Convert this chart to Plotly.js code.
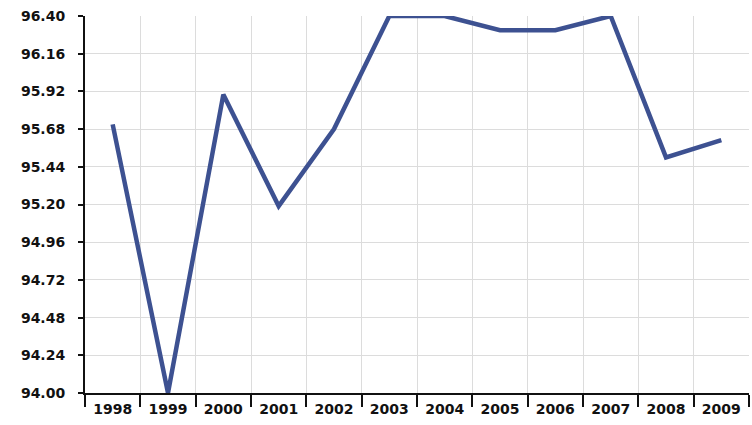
<!DOCTYPE html>
<html>
<head>
<meta charset="utf-8">
<script src="https://cdn.plot.ly/plotly-3.0.1.min.js"></script>
<style>html,body{margin:0;padding:0;background:#fff;}#chart{width:752px;height:425px;}</style>
</head>
<body>
<div id="chart"></div>
<script>
const years = ["1998","1999","2000","2001","2002","2003","2004","2005","2006","2007","2008","2009"];
const values = [95.71, 94.00, 95.90, 95.19, 95.68, 96.40, 96.40, 96.31, 96.31, 96.40, 95.50, 95.61];
const yTicks = [94.00, 94.24, 94.48, 94.72, 94.96, 95.20, 95.44, 95.68, 95.92, 96.16, 96.40];

const trace = {
  x: years, y: values, type: "scatter", mode: "lines",
  line: {color: "#3d5191", width: 4.5},
  hoverinfo: "skip"
};
const tickFont = {family: "DejaVu Sans, Verdana, sans-serif", size: 14, color: "#111", weight: "bold"};
const layout = {
  width: 752, height: 425,
  margin: {l: 85, r: 3, t: 16, b: 32},
  paper_bgcolor: "#fff", plot_bgcolor: "#fff",
  showlegend: false,
  xaxis: {
    type: "category", tickson: "boundaries", range: [-0.5, years.length - 0.5],
    showgrid: true, gridcolor: "#dcdcdc", gridwidth: 1,
    showline: true, linecolor: "#111", linewidth: 2,
    ticks: "outside", ticklen: 12, tickcolor: "#111", tickwidth: 2,
    ticklabelstandoff: 2,
    tickfont: tickFont, zeroline: false, fixedrange: true
  },
  yaxis: {
    range: [94.0, 96.4], tickvals: yTicks, tickformat: ".2f",
    showgrid: true, gridcolor: "#dcdcdc", gridwidth: 1,
    showline: true, linecolor: "#111", linewidth: 2,
    ticks: "outside", ticklen: 5, tickcolor: "#111", tickwidth: 2,
    ticklabelstandoff: 10,
    tickfont: tickFont, zeroline: false, fixedrange: true
  }
};
Plotly.newPlot("chart", [trace], layout, {staticPlot: true});
</script>
</body>
</html>
